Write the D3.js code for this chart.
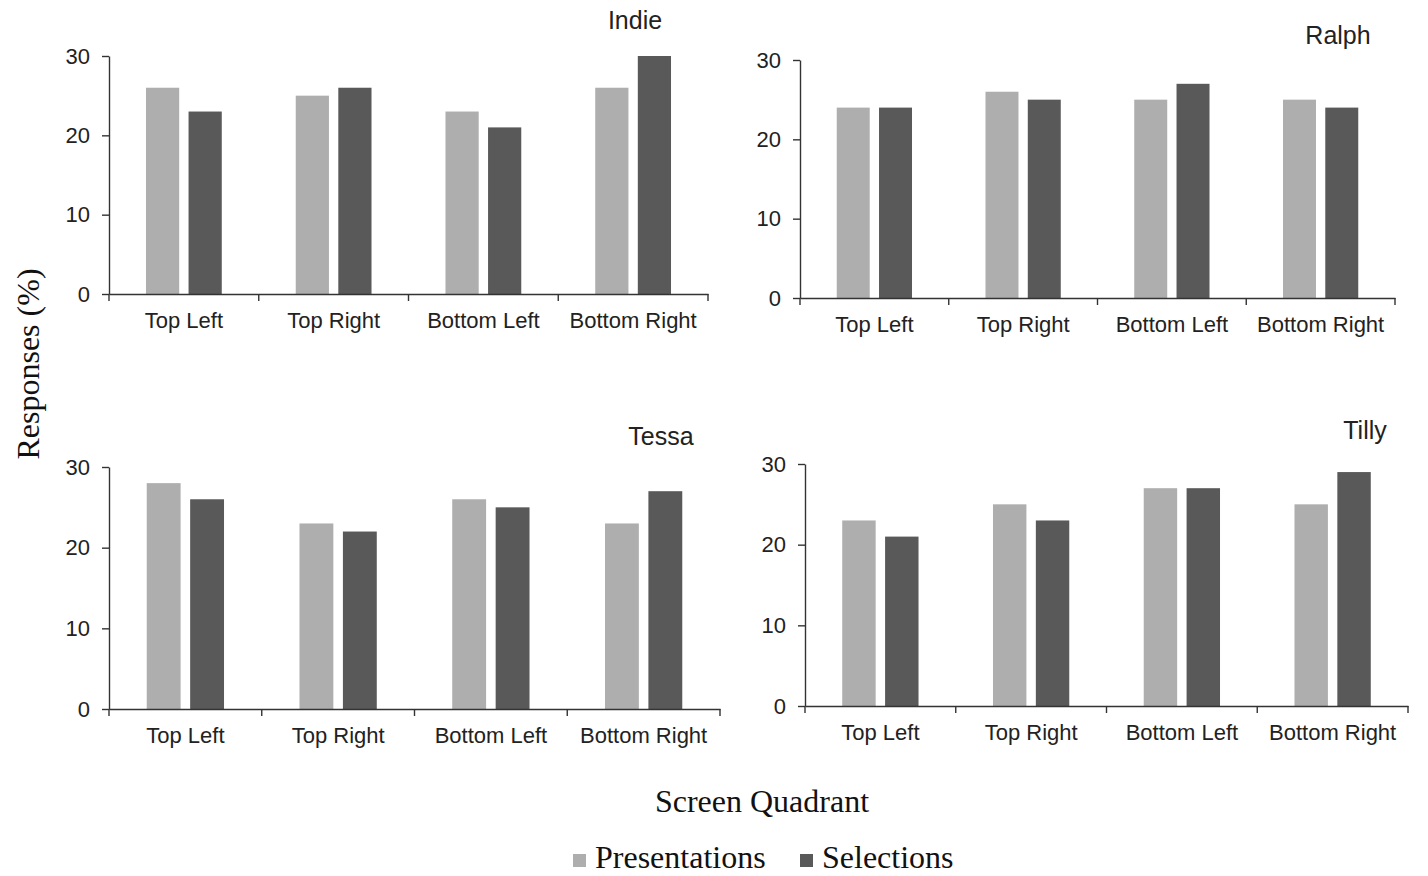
<!DOCTYPE html>
<html>
<head>
<meta charset="utf-8">
<script src="https://cdn.jsdelivr.net/npm/d3@7"></script>
<style>
  body { margin: 0; background: #fff; }
  svg { display: block; }
</style>
</head>
<body>
<div id="holder"></div>
<script>
// chart data
var categories = ["Top Left", "Top Right", "Bottom Left", "Bottom Right"];
var seriesNames = ["Presentations", "Selections"];
var yTicks = [0, 10, 20, 30];

var indiePresentations = [26, 25, 23, 26];
var indieSelections = [23, 26, 21, 30];
var ralphPresentations = [24, 26, 25, 25];
var ralphSelections = [24, 25, 27, 24];
var tessaPresentations = [28, 23, 26, 23];
var tessaSelections = [26, 22, 25, 27];
var tillyPresentations = [23, 25, 27, 25];
var tillySelections = [21, 23, 27, 29];

var colors = { Presentations: "#aeaeae", Selections: "#595959" };

var svg = d3.select("#holder").append("svg")
  .attr("width", 1428)
  .attr("height", 876);

// panel boxes: left/right of x axis, y of 0 and of 30, title position
var panels = [
  { name: "Indie", p: indiePresentations, s: indieSelections,
    left: 109, right: 708, bottom: 294, top: 56, tx: 635, ty: 29 },
  { name: "Ralph", p: ralphPresentations, s: ralphSelections,
    left: 800, right: 1395, bottom: 298, top: 60, tx: 1338, ty: 44 },
  { name: "Tessa", p: tessaPresentations, s: tessaSelections,
    left: 109, right: 720, bottom: 709, top: 467, tx: 661, ty: 445 },
  { name: "Tilly", p: tillyPresentations, s: tillySelections,
    left: 805, right: 1408, bottom: 706, top: 464, tx: 1365, ty: 439 }
];

var sans = "'Liberation Sans', Arial, sans-serif";
var serif = "'Liberation Serif', 'Times New Roman', serif";

function drawPanel(panel) {
  var g = svg.append("g");

  var x = d3.scaleBand()
    .domain(categories)
    .range([panel.left, panel.right]);

  var bw = x.bandwidth();
  var x1 = d3.scaleBand()
    .domain(seriesNames)
    .range([bw * 0.247, bw * 0.753])
    .paddingInner(0.22);

  var y = d3.scaleLinear()
    .domain([0, 30])
    .range([panel.bottom, panel.top]);

  // flatten values for the bars
  var rows = [];
  categories.forEach(function (c, i) {
    rows.push({ cat: c, series: "Presentations", value: panel.p[i] });
    rows.push({ cat: c, series: "Selections", value: panel.s[i] });
  });

  g.selectAll("rect.bar")
    .data(rows)
    .enter()
    .append("rect")
    .attr("class", "bar")
    .attr("x", function (d) { return x(d.cat) + x1(d.series); })
    .attr("y", function (d) { return y(d.value); })
    .attr("width", x1.bandwidth())
    .attr("height", function (d) { return y(0) - y(d.value); })
    .attr("fill", function (d) { return colors[d.series]; });

  // y axis
  var yAxis = g.append("g")
    .attr("transform", "translate(" + panel.left + ",0)")
    .call(d3.axisLeft(y).tickValues(yTicks).tickSize(7).tickSizeOuter(0).tickPadding(12));
  yAxis.select(".domain").attr("stroke", "#333").attr("stroke-width", 1.4);
  yAxis.selectAll(".tick line").attr("stroke", "#333").attr("stroke-width", 1.4);
  yAxis.selectAll("text")
    .style("font-family", sans)
    .style("font-size", "22px")
    .attr("fill", "#222");

  // x axis, labels at band centers, ticks at band edges
  var xAxis = g.append("g")
    .attr("transform", "translate(0," + panel.bottom + ")")
    .call(d3.axisBottom(x).tickSize(0).tickSizeOuter(0).tickPadding(18));
  xAxis.select(".domain").attr("stroke", "#333").attr("stroke-width", 1.4);
  xAxis.selectAll("text")
    .style("font-family", sans)
    .style("font-size", "22px")
    .attr("fill", "#222");

  var edges = categories.map(function (c) { return x(c); }).concat([panel.right]);
  g.selectAll("line.edge")
    .data(edges)
    .enter()
    .append("line")
    .attr("class", "edge")
    .attr("x1", function (d) { return d; })
    .attr("x2", function (d) { return d; })
    .attr("y1", panel.bottom)
    .attr("y2", panel.bottom + 7)
    .attr("stroke", "#333")
    .attr("stroke-width", 1.4);

  // panel title
  g.append("text")
    .attr("x", panel.tx)
    .attr("y", panel.ty)
    .attr("text-anchor", "middle")
    .style("font-family", sans)
    .style("font-size", "25px")
    .attr("fill", "#222")
    .text(panel.name);
}

panels.forEach(drawPanel);

// shared axis titles
svg.append("text")
  .attr("transform", "translate(39,364) rotate(-90)")
  .attr("text-anchor", "middle")
  .style("font-family", serif)
  .style("font-size", "32px")
  .attr("fill", "#111")
  .text("Responses (%)");

svg.append("text")
  .attr("x", 762)
  .attr("y", 812)
  .attr("text-anchor", "middle")
  .style("font-family", serif)
  .style("font-size", "32px")
  .attr("fill", "#111")
  .text("Screen Quadrant");

// legend
var legendX = [573, 800];
var legend = svg.selectAll("g.legend")
  .data(seriesNames)
  .enter()
  .append("g")
  .attr("class", "legend")
  .attr("transform", function (d, i) { return "translate(" + legendX[i] + ",854)"; });

legend.append("rect")
  .attr("x", 0)
  .attr("y", 0)
  .attr("width", 13)
  .attr("height", 13)
  .attr("fill", function (d) { return colors[d]; });

legend.append("text")
  .attr("x", 22)
  .attr("y", 14)
  .style("font-family", serif)
  .style("font-size", "32px")
  .attr("fill", "#111")
  .text(function (d) { return d; });
</script>
</body>
</html>
